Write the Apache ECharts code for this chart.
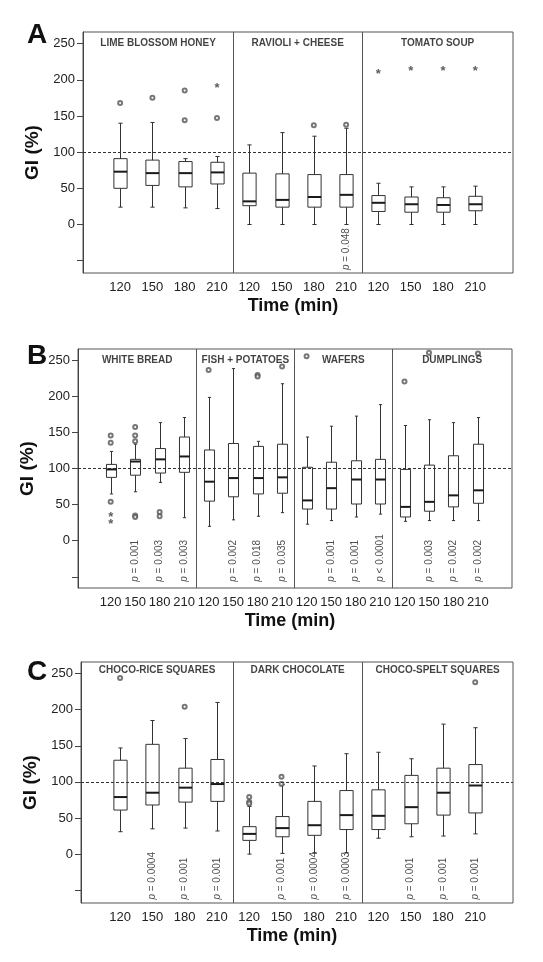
<!DOCTYPE html>
<html><head><meta charset="utf-8">
<script src="https://cdn.jsdelivr.net/npm/echarts@6/dist/echarts.min.js"></script>
<style>html,body{margin:0;padding:0;background:#fff}#c{width:543px;height:962px}</style>
</head><body><div id="c"></div>
<script>
const timeLabels = ['120','150','180','210'];
const yTicks = [-50, 0, 50, 100, 150, 200, 250];
const yTickLabels = [0, 50, 100, 150, 200, 250];

// Panel A
const foodsA = ['LIME BLOSSOM HONEY', 'RAVIOLI + CHEESE', 'TOMATO SOUP'];
// [low whisker, Q1, median, Q3, high whisker]
const boxesA = [
  [24, 50, 73, 91, 140], [24, 54, 71, 89, 141], [23, 52, 71, 87, 91], [22, 56, 72, 86, 94],
  [0, 26, 32, 71, 110], [0, 24, 34, 70, 127], [0, 24, 38, 69, 122], [0, 24, 41, 69, 133],
  [0, 18, 30, 40, 57], [0, 17, 28, 38, 52], [0, 17, 27, 37, 52], [0, 19, 28, 39, 53]
];
const outliersA = [[0, 168], [1, 175], [2, 185], [2, 144], [3, 147], [6, 137], [7, 138]];
const starsA = [[3, 192], [8, 212], [9, 215], [10, 215], [11, 215]];
const pValuesA = [[7, '= 0.048']];

// Panel B
const foodsB = ['WHITE BREAD', 'FISH + POTATOES', 'WAFERS', 'DUMPLINGS'];
const boxesB = [
  [65, 88, 99, 106, 124], [68, 91, 110, 113, 134], [81, 94, 113, 128, 164], [32, 95, 117, 144, 171],
  [20, 55, 82, 126, 199], [29, 61, 87, 135, 239], [34, 65, 87, 131, 138], [39, 66, 88, 134, 218],
  [23, 44, 56, 102, 144], [28, 44, 73, 109, 159], [33, 51, 85, 111, 173], [37, 51, 85, 113, 189],
  [27, 33, 47, 99, 160], [28, 41, 54, 105, 168], [28, 47, 63, 118, 164], [28, 52, 70, 134, 171]
];
const outliersB = [[0, 146], [0, 136], [0, 54], [1, 158], [1, 146], [1, 138], [1, 35], [1, 33],
  [2, 40], [2, 34], [4, 237], [6, 230], [6, 228], [7, 242], [8, 256], [12, 221], [13, 261], [15, 260]];
const starsB = [[0, 36], [0, 27]];
const pValuesB = [[1, '= 0.001'], [2, '= 0.003'], [3, '= 0.003'], [5, '= 0.002'], [6, '= 0.018'], [7, '= 0.035'],
  [9, '= 0.001'], [10, '= 0.001'], [11, '< 0.0001'], [13, '= 0.003'], [14, '= 0.002'], [15, '= 0.002']];

// Panel C
const foodsC = ['CHOCO-RICE SQUARES', 'DARK CHOCOLATE', 'CHOCO-SPELT SQUARES'];
const boxesC = [
  [31, 61, 79, 130, 147], [35, 68, 85, 152, 185], [36, 72, 92, 119, 160], [32, 73, 97, 131, 210],
  [0, 19, 28, 38, 66], [1, 24, 36, 52, 96], [2, 26, 40, 73, 122], [2, 34, 54, 88, 139],
  [22, 34, 53, 89, 141], [24, 42, 65, 109, 132], [25, 54, 85, 119, 180], [28, 57, 95, 124, 175]
];
const outliersC = [[0, 244], [2, 204], [4, 79], [4, 72], [4, 70], [5, 107], [5, 97], [11, 238]];
const starsC = [];
const pValuesC = [[1, '= 0.0004'], [2, '= 0.001'], [3, '= 0.001'], [5, '= 0.001'], [6, '= 0.0004'], [7, '= 0.0003'],
  [9, '= 0.001'], [10, '= 0.001'], [11, '= 0.001']];

const FONT = '"Liberation Sans", Arial, Helvetica, sans-serif';
const BOX_W = 0.41, CAP_W = 0.13;

const panels = [
  { letter: 'A', letterTop: 16, foods: foodsA, boxes: boxesA, outliers: outliersA, stars: starsA, pvals: pValuesA,
    grid: { left: 83, right: 30, top: 32, height: 241 }, xmin: -1.15, xmax: 12.17, ymin: -67, ymax: 266, titleY: 250, pY: -63 },
  { letter: 'B', letterTop: 337, foods: foodsB, boxes: boxesB, outliers: outliersB, stars: starsB, pvals: pValuesB,
    grid: { left: 78, right: 31, top: 349, height: 239 }, xmin: -1.335, xmax: 16.39, ymin: -65.6, ymax: 266.2, titleY: 250, pY: -57 },
  { letter: 'C', letterTop: 653, foods: foodsC, boxes: boxesC, outliers: outliersC, stars: starsC, pvals: pValuesC,
    grid: { left: 81, right: 30, top: 662, height: 241 }, xmin: -1.21, xmax: 12.17, ymin: -67.7, ymax: 266, titleY: 254, pY: -63 }
];

function renderBox(params, api) {
  const x = api.value(0);
  const pLo = api.coord([x, api.value(1)]);
  const pQ1 = api.coord([x, api.value(2)]);
  const pMed = api.coord([x, api.value(3)]);
  const pQ3 = api.coord([x, api.value(4)]);
  const pHi = api.coord([x, api.value(5)]);
  const w = api.size([BOX_W, 0])[0];
  const cw = api.size([CAP_W, 0])[0];
  const cx = Math.round(pMed[0]) + 0.5;
  const st = { stroke: '#333', lineWidth: 1, fill: null };
  return {
    type: 'group', children: [
      { type: 'line', shape: { x1: cx, y1: pHi[1], x2: cx, y2: pQ3[1] }, style: st },
      { type: 'line', shape: { x1: cx, y1: pQ1[1], x2: cx, y2: pLo[1] }, style: st },
      { type: 'line', shape: { x1: cx - cw / 2, y1: pHi[1], x2: cx + cw / 2, y2: pHi[1] }, style: st },
      { type: 'line', shape: { x1: cx - cw / 2, y1: pLo[1], x2: cx + cw / 2, y2: pLo[1] }, style: st },
      { type: 'rect', shape: { x: cx - w / 2, y: pQ3[1], width: w, height: pQ1[1] - pQ3[1] },
        style: { fill: null, stroke: '#333', lineWidth: 1 } },
      { type: 'line', shape: { x1: cx - w / 2, y1: pMed[1], x2: cx + w / 2, y2: pMed[1] },
        style: { stroke: '#1a1a1a', lineWidth: 2 } }
    ]
  };
}

const option = { animation: false, backgroundColor: '#fff', title: [], grid: [], xAxis: [], yAxis: [], series: [] };

panels.forEach((p, gi) => {
  const n = p.boxes.length;
  option.title.push({ text: p.letter, left: 22, top: p.letterTop,
    textStyle: { fontSize: 28, fontWeight: 'bold', color: '#111', fontFamily: FONT } });
  option.grid.push(Object.assign({ show: true, borderColor: '#555', borderWidth: 1, backgroundColor: 'transparent' }, p.grid));
  option.xAxis.push({
    type: 'value', gridIndex: gi, min: p.xmin, max: p.xmax,
    axisLine: { show: false, onZero: false }, axisTick: { show: false }, splitLine: { show: false },
    axisLabel: { customValues: Array.from({ length: n }, (_, i) => i), margin: 8, fontSize: 13, color: '#222', fontFamily: FONT,
      formatter: v => timeLabels[Math.round(v) % timeLabels.length] },
    name: 'Time (min)', nameLocation: 'middle', nameGap: 24,
    nameTextStyle: { fontSize: 18, fontWeight: 'bold', color: '#111', fontFamily: FONT, padding: [0, 10, 0, 0] }
  });
  option.yAxis.push({
    type: 'value', gridIndex: gi, min: p.ymin, max: p.ymax,
    axisLine: { show: true, onZero: false, lineStyle: { color: '#444' } },
    axisTick: { show: true, customValues: yTicks, length: 6, lineStyle: { color: '#444' } },
    axisLabel: { customValues: yTickLabels, margin: 8, fontSize: 13, color: '#222', fontFamily: FONT },
    splitLine: { show: false },
    name: 'GI (%)', nameLocation: 'middle', nameGap: 40,
    nameTextStyle: { fontSize: 19, fontWeight: 'bold', color: '#111', fontFamily: FONT }
  });
  const groups = p.foods.length;
  const dividers = [];
  for (let k = 1; k < groups; k++) dividers.push(k * 4 - 0.5);
  const titleData = p.foods.map((f, k) => {
    const lo = k === 0 ? p.xmin : k * 4 - 0.5;
    const hi = k === groups - 1 ? p.xmax : (k + 1) * 4 - 0.5;
    return [(lo + hi) / 2, p.titleY, f];
  });
  option.series.push({
    type: 'custom', xAxisIndex: gi, yAxisIndex: gi, renderItem: renderBox,
    encode: { x: 0, y: [1, 2, 3, 4, 5] },
    data: p.boxes.map((b, i) => [i].concat(b)), z: 3
  });
  option.series.push({
    type: 'scatter', xAxisIndex: gi, yAxisIndex: gi, symbol: 'emptyCircle', symbolSize: 4,
    itemStyle: { color: '#555', borderWidth: 1 }, data: p.outliers, z: 4,
    markLine: {
      silent: true, symbol: ['none', 'none'], label: { show: false }, animation: false,
      data: [{ yAxis: 100, lineStyle: { type: [3, 2], color: '#333', width: 1 } }]
        .concat(dividers.map(d => ({ xAxis: d, lineStyle: { type: 'solid', color: '#555', width: 1 } })))
    }
  });
  option.series.push({
    type: 'scatter', xAxisIndex: gi, yAxisIndex: gi, symbol: 'circle', symbolSize: 1,
    itemStyle: { color: 'rgba(0,0,0,0)' }, data: p.stars, z: 4,
    label: { show: true, position: 'inside', formatter: '*', fontSize: 13, fontWeight: 'bold', color: '#333', fontFamily: FONT, offset: [0, 3] }
  });
  option.series.push({
    type: 'scatter', xAxisIndex: gi, yAxisIndex: gi, symbol: 'circle', symbolSize: 1,
    itemStyle: { color: 'rgba(0,0,0,0)' }, data: titleData, z: 5,
    label: { show: true, position: 'inside', formatter: d => d.data[2], fontSize: 10, fontWeight: 'bold', color: '#111', fontFamily: FONT }
  });
  option.series.push({
    type: 'scatter', xAxisIndex: gi, yAxisIndex: gi, symbol: 'circle', symbolSize: 1,
    itemStyle: { color: 'rgba(0,0,0,0)' }, data: p.pvals.map(v => [v[0], p.pY, v[1]]), z: 5,
    label: { show: true, position: 'inside', rotate: 90, align: 'left', verticalAlign: 'middle',
      formatter: d => '{i|p} ' + d.data[2], fontSize: 10, color: '#222', fontFamily: FONT,
      rich: { i: { fontStyle: 'italic', fontSize: 10, color: '#222', fontFamily: FONT } } }
  });
});

const chart = echarts.init(document.getElementById('c'), null, { renderer: 'canvas' });
chart.setOption(option);
</script>
</body></html>
